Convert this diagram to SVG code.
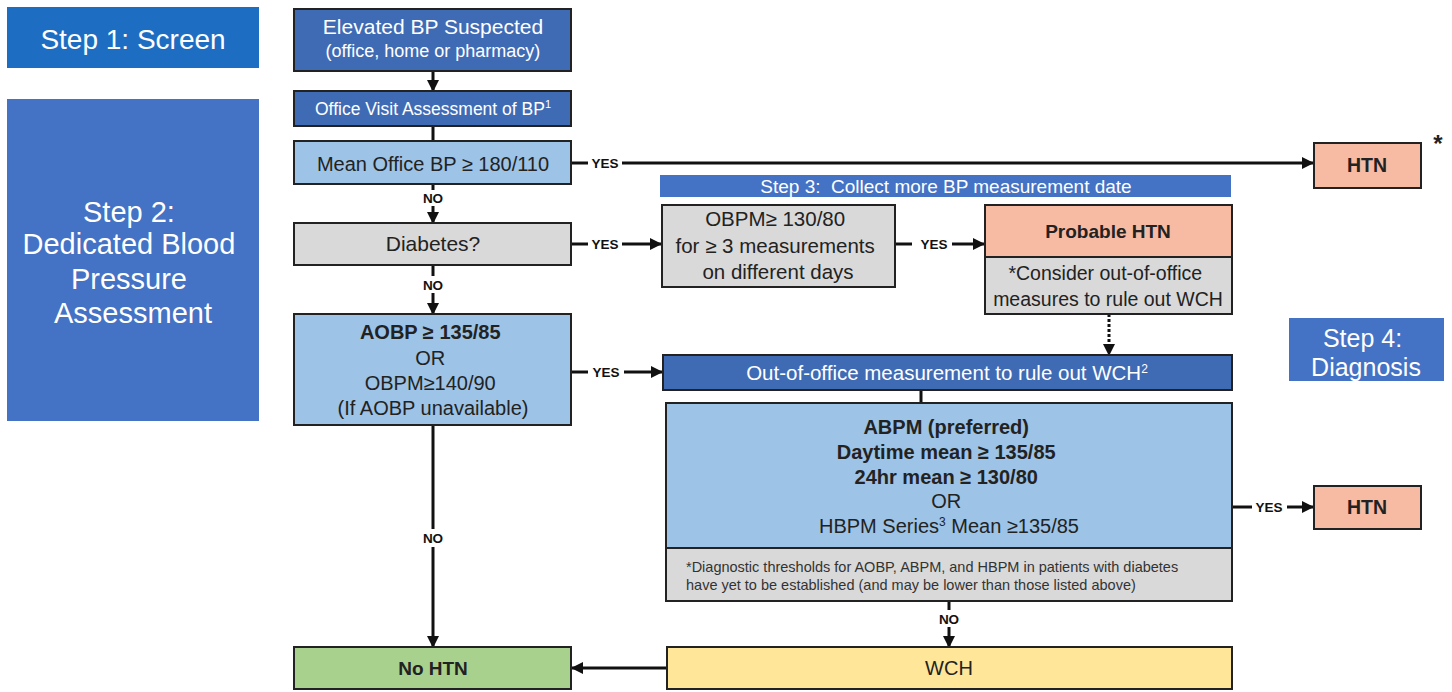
<svg xmlns="http://www.w3.org/2000/svg" width="1452" height="692" viewBox="0 0 1452 692">
  <defs>
    <marker id="arrow" markerUnits="userSpaceOnUse" markerWidth="12" markerHeight="12" refX="11" refY="6" orient="auto">
      <path d="M0,0 L12,6 L0,12 Z" fill="#111"/>
    </marker>
    <style>
      text { font-family: "Liberation Sans", Arial, sans-serif; text-anchor: middle; fill: #222; }
      .step { fill: #4472c4; }
      .step1 { fill: #1d6ec2; }
      .steptxt { fill: #fff; }
      .box { stroke: #222; stroke-width: 2; }
      .dark { fill: #3f6bb5; }
      .light { fill: #9dc3e6; }
      .gray { fill: #d9d9d9; }
      .salmon { fill: #f7bba4; }
      .green { fill: #a9d18e; }
      .yellow { fill: #ffe699; }
      .wtxt { fill: #fff; }
      .b { font-weight: bold; }
      .lbl { font-size: 13.5px; font-weight: bold; fill: #111; }
      .conn { stroke: #111; stroke-width: 3; fill: none; }
    </style>
  </defs>
  <rect width="1452" height="692" fill="#fff"/>

  <!-- Step banners -->
  <g id="step1">
    <rect class="step1" x="7" y="7" width="252" height="61"/>
    <text class="steptxt" x="133" y="49" font-size="28">Step 1: Screen</text>
  </g>
  <g id="step2">
    <rect class="step" x="7" y="99" width="252" height="322"/>
    <text class="steptxt" font-size="29">
      <tspan x="133" y="222">Step 2:</tspan>
      <tspan x="133" y="254">Dedicated Blood</tspan>
      <tspan x="133" y="289">Pressure</tspan>
      <tspan x="133" y="323">Assessment</tspan>
    </text>
  </g>
  <g id="step3">
    <rect class="step" x="660" y="175" width="571" height="22"/>
    <text class="steptxt" x="946" y="193" font-size="19" xml:space="preserve">Step 3:  Collect more BP measurement date</text>
  </g>
  <g id="step4">
    <rect class="step" x="1289" y="318" width="155" height="63"/>
    <text class="steptxt" font-size="25">
      <tspan x="1366" y="347">Step 4:</tspan>
      <tspan x="1366" y="376">Diagnosis</tspan>
    </text>
  </g>

  <!-- Connectors -->
  <g id="connectors">
    <line class="conn" x1="433" y1="71" x2="433" y2="91" marker-end="url(#arrow)"/>
    <line class="conn" x1="433" y1="126" x2="433" y2="141"/>
    <line class="conn" x1="571" y1="163" x2="588" y2="163"/>
    <text class="lbl" x="605" y="168">YES</text>
    <line class="conn" x1="622" y1="163" x2="1313" y2="163" marker-end="url(#arrow)"/>
    <line class="conn" x1="433" y1="184" x2="433" y2="190"/>
    <text class="lbl" x="433" y="203">NO</text>
    <line class="conn" x1="433" y1="206" x2="433" y2="223" marker-end="url(#arrow)"/>
    <line class="conn" x1="571" y1="244" x2="588" y2="244"/>
    <text class="lbl" x="605" y="249">YES</text>
    <line class="conn" x1="622" y1="244" x2="661" y2="244" marker-end="url(#arrow)"/>
    <line class="conn" x1="895" y1="244" x2="912" y2="244"/>
    <text class="lbl" x="934" y="249">YES</text>
    <line class="conn" x1="952" y1="244" x2="984" y2="244" marker-end="url(#arrow)"/>
    <line class="conn" x1="433" y1="265" x2="433" y2="276"/>
    <text class="lbl" x="433" y="290">NO</text>
    <line class="conn" x1="433" y1="293" x2="433" y2="314" marker-end="url(#arrow)"/>
    <line class="conn" x1="1109" y1="314" x2="1109" y2="355" stroke-dasharray="3,2" marker-end="url(#arrow)"/>
    <line class="conn" x1="571" y1="372" x2="588" y2="372"/>
    <text class="lbl" x="606" y="377">YES</text>
    <line class="conn" x1="624" y1="372" x2="662" y2="372" marker-end="url(#arrow)"/>
    <line class="conn" x1="921" y1="390" x2="921" y2="403"/>
    <line class="conn" x1="1232" y1="507" x2="1252" y2="507"/>
    <text class="lbl" x="1269" y="512">YES</text>
    <line class="conn" x1="1287" y1="507" x2="1313" y2="507" marker-end="url(#arrow)"/>
    <line class="conn" x1="949" y1="601" x2="949" y2="610"/>
    <text class="lbl" x="949" y="624">NO</text>
    <line class="conn" x1="949" y1="627" x2="949" y2="647" marker-end="url(#arrow)"/>
    <line class="conn" x1="433" y1="425" x2="433" y2="529"/>
    <text class="lbl" x="433" y="543">NO</text>
    <line class="conn" x1="433" y1="547" x2="433" y2="647" marker-end="url(#arrow)"/>
    <line class="conn" x1="667" y1="668" x2="572" y2="668" marker-end="url(#arrow)"/>
  </g>

  <!-- Nodes -->
  <g id="elevated-bp">
    <rect class="box dark" x="294" y="9" width="277" height="62"/>
    <text class="wtxt" x="433" y="34" font-size="21">Elevated BP Suspected</text>
    <text class="wtxt" x="433" y="57" font-size="18">(office, home or pharmacy)</text>
  </g>
  <g id="office-visit">
    <rect class="box dark" x="294" y="91" width="277" height="35"/>
    <text class="wtxt" x="433" y="115" font-size="17.5">Office Visit Assessment of BP<tspan font-size="11" dy="-7">1</tspan></text>
  </g>
  <g id="mean-office-bp">
    <rect class="box light" x="294" y="141" width="277" height="43"/>
    <text x="433" y="171" font-size="20">Mean Office BP ≥ 180/110</text>
  </g>
  <g id="htn-top">
    <rect class="box salmon" x="1314" y="143" width="107" height="45"/>
    <text class="b" x="1367" y="172" font-size="19.5">HTN</text>
    <text class="b" x="1438" y="152" font-size="24">*</text>
  </g>
  <g id="diabetes">
    <rect class="box gray" x="294" y="223" width="277" height="42"/>
    <text x="433" y="251" font-size="21">Diabetes?</text>
  </g>
  <g id="obpm-130">
    <rect class="box gray" x="662" y="205" width="233" height="82"/>
    <text font-size="20.5">
      <tspan x="778" y="226">OBPM≥ 130/80</tspan>
      <tspan x="778" y="253">for ≥ 3 measurements</tspan>
      <tspan x="778" y="279">on different days</tspan>
    </text>
  </g>
  <g id="probable-htn">
    <rect class="box salmon" x="985" y="205" width="247" height="52"/>
    <rect class="box gray" x="985" y="257" width="247" height="57"/>
    <text class="b" x="1108" y="238" font-size="19">Probable HTN</text>
    <text font-size="19.5">
      <tspan x="1108" y="280">*Consider out-of-office</tspan>
      <tspan x="1108" y="306">measures to rule out WCH</tspan>
    </text>
  </g>
  <g id="aobp">
    <rect class="box light" x="294" y="314" width="277" height="111"/>
    <text font-size="20">
      <tspan class="b" x="433" y="339">AOBP ≥ 135/85</tspan>
      <tspan x="433" y="365">OR</tspan>
      <tspan x="433" y="390">OBPM≥140/90</tspan>
      <tspan x="433" y="415">(If AOBP unavailable)</tspan>
    </text>
  </g>
  <g id="out-of-office">
    <rect class="box dark" x="663" y="355" width="569" height="35"/>
    <text class="wtxt" x="947" y="380" font-size="20.5">Out-of-office measurement to rule out WCH<tspan font-size="12" dy="-7">2</tspan></text>
  </g>
  <g id="abpm">
    <rect class="box light" x="666" y="403" width="566" height="145"/>
    <rect class="box gray" x="666" y="548" width="566" height="53"/>
    <text font-size="20">
      <tspan class="b" x="949" y="434">ABPM (preferred)</tspan>
      <tspan class="b" x="949" y="459">Daytime mean ≥ 135/85</tspan>
      <tspan class="b" x="949" y="484">24hr mean ≥ 130/80</tspan>
      <tspan x="949" y="508">OR</tspan>
      <tspan x="949" y="533">HBPM Series<tspan font-size="12" dy="-7">3</tspan><tspan dy="7"> Mean ≥135/85</tspan></tspan>
    </text>
    <text font-size="14.5" style="text-anchor: start; fill: #333;">
      <tspan x="686" y="572">*Diagnostic thresholds for AOBP, ABPM, and HBPM in patients with diabetes</tspan>
      <tspan x="686" y="590">have yet to be established (and may be lower than those listed above)</tspan>
    </text>
  </g>
  <g id="htn-bottom">
    <rect class="box salmon" x="1314" y="486" width="107" height="43"/>
    <text class="b" x="1367" y="514" font-size="19.5">HTN</text>
  </g>
  <g id="no-htn">
    <rect class="box green" x="294" y="647" width="277" height="42"/>
    <text class="b" x="433" y="675" font-size="19">No HTN</text>
  </g>
  <g id="wch">
    <rect class="box yellow" x="667" y="647" width="565" height="42"/>
    <text x="949" y="675" font-size="20">WCH</text>
  </g>
</svg>
